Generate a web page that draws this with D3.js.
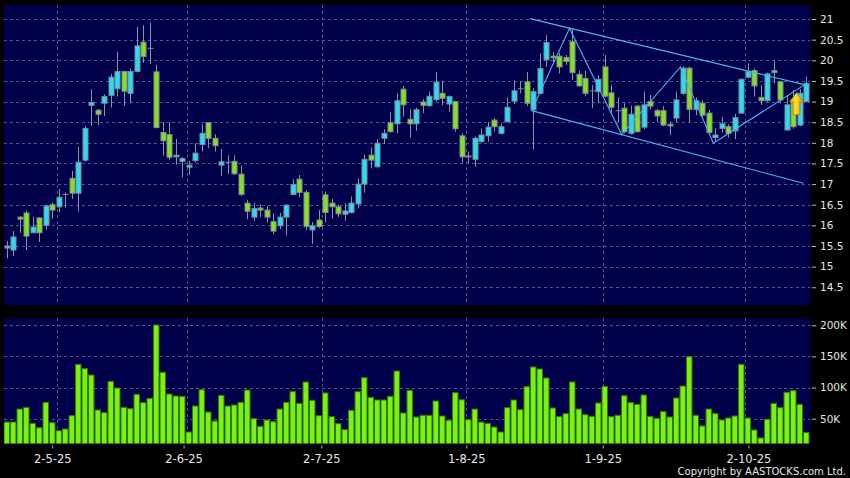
<!DOCTYPE html>
<html><head><meta charset="utf-8">
<script src="https://cdn.jsdelivr.net/npm/d3@7"></script>
<style>html,body{margin:0;padding:0;background:#000;}svg{display:block;}</style>
</head><body><svg id="c" width="850" height="478"></svg>
<script>
const openP=[15.45,15.4,16.2,16.3,15.82,16.18,16.0,16.5,16.45,16.75,17.14,16.78,17.58,18.91,18.79,18.96,19.15,19.31,19.73,19.2,19.73,20.44,20.29,19.72,18.25,18.2,17.66,17.55,17.41,17.57,17.96,18.49,18.11,17.46,17.53,17.55,17.24,16.54,16.2,16.42,16.37,16.09,15.99,16.2,16.75,17.12,16.8,15.89,16.13,16.74,16.54,16.45,16.27,16.31,16.52,17.0,17.7,17.42,18.11,18.49,18.46,19.3,18.57,18.46,18.99,18.9,19.05,19.2,18.94,19.0,18.17,17.66,17.6,18.03,18.17,18.55,18.23,18.51,19.01,19.31,19.48,18.8,19.2,20.01,20.1,20.1,20.07,20.45,19.66,19.56,19.26,19.24,19.84,19.21,18.78,18.84,18.23,18.89,18.38,19.0,18.78,18.78,18.45,18.6,19.2,19.81,18.81,18.96,18.72,18.13,18.35,18.39,18.29,18.72,19.59,19.75,19.1,19.02,19.7,19.48,18.31,19.04,18.43,19.0];
const highP=[15.62,15.86,16.22,16.36,16.2,16.2,16.5,16.55,16.88,16.8,17.32,17.9,18.41,19.3,18.82,19.18,19.67,20.21,19.75,19.8,20.81,20.85,20.91,19.89,18.5,18.5,18.1,17.66,17.56,17.99,18.46,18.5,18.21,17.85,17.7,17.7,17.45,16.62,16.54,16.51,16.47,16.29,16.3,16.51,17.12,17.22,16.85,16.08,16.37,16.82,16.64,16.5,16.54,16.7,17.14,17.71,17.89,18.09,18.33,18.75,19.2,19.38,18.82,18.85,19.06,19.24,19.71,19.5,19.15,19.02,18.23,17.79,18.15,18.35,18.51,18.6,18.47,19.1,19.51,19.5,19.72,19.32,20.17,20.61,20.2,20.18,20.13,20.77,19.75,19.75,19.4,19.64,20.13,19.4,19.1,18.96,18.9,18.92,19.24,19.16,18.82,18.89,18.51,19.24,19.85,19.85,19.1,19.04,18.8,18.35,18.63,18.45,18.7,19.56,19.93,19.8,19.4,19.7,19.99,19.5,19.16,19.28,19.3,19.6];
const lowP=[15.2,15.26,15.82,15.4,15.82,15.6,15.9,16.16,16.31,16.43,16.64,16.33,17.55,18.41,18.43,18.65,18.86,19.12,18.9,18.96,19.72,19.94,19.91,18.35,17.69,17.58,17.47,17.17,17.22,17.52,17.79,17.87,17.79,17.2,17.25,17.22,16.71,16.15,16.11,16.2,16.07,15.78,15.91,15.75,16.73,16.68,15.89,15.55,15.93,16.07,16.16,16.2,16.11,16.29,16.41,16.79,17.38,17.4,17.97,18.25,18.23,18.63,18.13,18.29,18.72,18.88,19.0,18.91,18.75,18.27,17.52,17.5,17.42,18.0,18.03,18.27,18.2,18.5,18.94,19.2,18.89,17.84,19.18,19.84,19.9,19.68,19.89,19.52,19.36,19.13,18.84,18.96,19.1,18.73,18.5,18.23,18.2,18.25,18.33,18.81,18.51,18.4,18.19,18.51,19.16,18.51,18.67,18.62,18.22,18.03,18.25,18.13,18.09,18.7,19.56,19.12,18.92,19.0,19.44,18.96,18.3,18.34,18.4,18.98];
const closeP=[15.5,15.72,16.15,15.74,15.96,15.82,16.47,16.37,16.68,16.75,16.78,17.53,18.35,18.98,18.69,19.12,19.59,19.73,19.25,19.73,20.35,20.09,20.29,18.37,18.05,17.65,17.7,17.62,17.46,17.75,18.23,18.11,17.93,17.54,17.53,17.25,16.75,16.34,16.41,16.37,16.2,15.86,16.2,16.49,16.99,16.8,15.97,15.99,15.97,16.31,16.45,16.28,16.35,16.54,17.0,17.6,17.58,17.99,18.23,18.27,19.02,18.92,18.46,18.8,18.91,19.13,19.47,19.08,19.12,18.34,17.66,17.68,18.11,18.19,18.38,18.39,18.39,18.86,19.26,19.31,18.96,19.24,19.8,20.43,20.06,19.84,19.97,19.7,19.38,19.2,19.26,19.54,19.13,18.86,18.78,18.27,18.69,18.27,18.92,18.89,18.65,18.43,18.41,19.04,19.81,18.81,19.02,18.67,18.25,18.19,18.46,18.23,18.61,19.54,19.72,19.38,19.02,19.67,19.75,19.04,18.92,18.39,19.2,19.44];
const volumeK=[44.6,44.6,65.5,68.2,42.5,35.5,76.2,43.5,30.7,33.4,54.8,137.3,130.3,120.1,63.9,59.6,110,99.2,68.2,66.1,89.1,75.7,82.7,200.4,124.5,89.6,86.4,85.9,28.6,70.3,96.5,60.6,46.2,87.5,70.3,71.9,76.2,96,50,37.7,47.9,45.2,65.5,76.2,93.4,74.6,108.9,79.5,54.8,91.3,53.3,42,32.3,63.4,93.4,115.8,84.3,80,80,85.9,126.5,59.1,95.5,52.7,55.4,55.4,78.4,54.3,47.4,91.8,80.4,48.4,65.5,44.6,42.5,36.6,28.6,67.7,80,64.5,101.4,133,129.8,115.3,67.1,53.3,58.1,108.9,65.5,56.4,53.8,75.2,101.9,53.3,55.4,87,75.7,73,88,53.8,50.6,61.3,52.7,83.2,102.4,149.5,55.4,38.3,65.5,58.1,47.9,51.1,54.3,137.3,51.1,31.8,19,49,74.6,67.7,92.4,95,73,28];

const dateLabels=["2-5-25","2-6-25","2-7-25","1-8-25","1-9-25","2-10-25"];
const dateTickIndex=[7,27.2,48.4,70.7,91.7,114.1];
const dateGridIndex=[7.7,27.7,48.5,70.6,91.7,113.6];
const priceTicks=[14.5,15,15.5,16,16.5,17,17.5,18,18.5,19,19.5,20,20.5,21];
const volumeTicks=[50,100,150,200];

// trend annotations (bar index, price)
const upperChannel=[[80.5,21.01],[123.5,19.38]];
const lowerChannel=[[80.76,18.78],[122.55,17.02]];
const zigzag=[[80.76,18.78],[86.58,20.775],[94.6,18.2],[103.65,19.84],[108.7,17.99],[123.07,19.44]];
const signalArrow={index:121.5,top:19.22,bottom:18.68};

const svg=d3.select("#c");
const n=openP.length;
const P={l:4,r:810.5,t:5,b:305};
const V={t:318,b:443.5};
const x=d3.scaleLinear().domain([-0.5,n-0.5]).range([3.5,809.5]);
const yP=d3.scaleLinear().domain([14.07,21.34]).range([305,5]);
const yV=d3.scaleLinear().domain([0,212]).range([449.8,317.8]);

const navy="#00004a", grid="#55558c", txt="#e6e6e6";
const upFill="#2adcef", dnFill="#86e01e", edge="#7d8c9a", wick="#8b96a2";

svg.append("rect").attr("width",850).attr("height",478).attr("fill","#000");
const defs=svg.append("defs");
defs.append("clipPath").attr("id","cp").append("rect").attr("x",P.l).attr("y",P.t).attr("width",P.r-P.l).attr("height",P.b-P.t);
defs.append("clipPath").attr("id","cv").append("rect").attr("x",P.l).attr("y",V.t).attr("width",P.r-P.l).attr("height",V.b-V.t);
const grad=defs.append("linearGradient").attr("id","ag").attr("x1",0).attr("x2",1).attr("y1",0).attr("y2",0);
grad.append("stop").attr("offset","0%").attr("stop-color","#e89a00");
grad.append("stop").attr("offset","45%").attr("stop-color","#ffe23a");
grad.append("stop").attr("offset","100%").attr("stop-color","#d88a00");

svg.append("rect").attr("x",P.l).attr("y",P.t).attr("width",P.r-P.l).attr("height",P.b-P.t).attr("fill",navy);
svg.append("rect").attr("x",P.l).attr("y",V.t).attr("width",P.r-P.l).attr("height",V.b-V.t).attr("fill",navy);

const snap=v=>Math.round(v)+0.5;
// grids
const gP=svg.append("g").attr("clip-path","url(#cp)");
gP.selectAll("line.h").data(priceTicks).join("line").attr("x1",P.l).attr("x2",P.r)
 .attr("y1",d=>snap(yP(d))).attr("y2",d=>snap(yP(d))).attr("stroke",grid).attr("stroke-dasharray","3,3");
gP.selectAll("line.v").data(dateGridIndex).join("line").attr("class","v").attr("y1",P.t).attr("y2",P.b)
 .attr("x1",d=>snap(x(d))).attr("x2",d=>snap(x(d))).attr("stroke",grid).attr("stroke-dasharray","3,3");
const gV=svg.append("g").attr("clip-path","url(#cv)");
gV.selectAll("line.h").data(volumeTicks).join("line").attr("x1",P.l).attr("x2",P.r)
 .attr("y1",d=>snap(yV(d))).attr("y2",d=>snap(yV(d))).attr("stroke",grid).attr("stroke-dasharray","3,3");
gV.selectAll("line.v").data(dateGridIndex).join("line").attr("class","v").attr("y1",V.t).attr("y2",V.b)
 .attr("x1",d=>snap(x(d))).attr("x2",d=>snap(x(d))).attr("stroke",grid).attr("stroke-dasharray","3,3");

// candles
const idx=d3.range(n);
const cg=gP.append("g");
cg.selectAll("line.w").data(idx).join("line").attr("class","w")
 .attr("x1",i=>snap(x(i))).attr("x2",i=>snap(x(i)))
 .attr("y1",i=>yP(highP[i])).attr("y2",i=>yP(lowP[i])).attr("stroke",wick).attr("stroke-width",1);
cg.selectAll("rect.b").data(idx).join("rect").attr("class","b")
 .attr("x",i=>snap(x(i))-2.5).attr("width",5)
 .attr("y",i=>yP(Math.max(openP[i],closeP[i])))
 .attr("height",i=>Math.max(0.01,yP(Math.min(openP[i],closeP[i]))-yP(Math.max(openP[i],closeP[i]))))
 .attr("fill",i=>closeP[i]>=openP[i]?upFill:dnFill).attr("stroke",edge).attr("stroke-width",1);

// volume
gV.selectAll("rect.v").data(idx).join("rect").attr("class","v")
 .attr("x",i=>x(i)-2.75).attr("width",5.5)
 .attr("y",i=>yV(volumeK[i])).attr("height",i=>yV(0)-yV(volumeK[i]))
 .attr("fill","#7cf012").attr("stroke","#2f7a06").attr("stroke-width",1);

// trend lines
const ln=d3.line().x(d=>x(d[0])).y(d=>yP(d[1]));
const tl=gP.append("g").attr("fill","none").attr("stroke","#4cb6f0").attr("stroke-width",1.1);
[upperChannel,lowerChannel,zigzag].forEach(a=>tl.append("path").attr("d",ln(a)));

// arrow
const ax=x(signalArrow.index), at=yP(signalArrow.top), ab=yP(signalArrow.bottom);
const hh=9.5, hw=7, sw=3.4;
svg.append("path").attr("d",`M${ax},${at}L${ax+hw},${at+hh}L${ax+sw},${at+hh}L${ax+sw},${ab}L${ax-sw},${ab}L${ax-sw},${at+hh}L${ax-hw},${at+hh}Z`)
 .attr("fill","url(#ag)").attr("stroke","#b87800").attr("stroke-width",0.8);

// axes
const font="DejaVu Sans, Verdana, sans-serif";
const ayP=svg.append("g").attr("transform","translate(812,0)")
 .call(d3.axisRight(yP).tickValues(priceTicks).tickSize(4).tickPadding(4).tickFormat(d3.format("")));
const ayV=svg.append("g").attr("transform","translate(812,0)")
 .call(d3.axisRight(yV).tickValues(volumeTicks).tickSize(4).tickPadding(4).tickFormat(d=>d+"K"));
const axX=svg.append("g").attr("transform",`translate(0,${V.b+2})`)
 .call(d3.axisBottom(x).tickValues(dateTickIndex).tickSize(3).tickPadding(6).tickFormat((d,i)=>dateLabels[i]));
[ayP,ayV,axX].forEach(g=>{
  g.select(".domain").remove();
  g.selectAll(".tick line").attr("stroke","#bbbbbb");
  g.selectAll("text").attr("fill",txt).attr("font-family",font);
});
ayP.selectAll("text").attr("font-size","10.5px");
ayV.selectAll("text").attr("font-size","10.5px");
axX.selectAll("text").attr("font-size","11.5px");

svg.append("text").attr("x",846).attr("y",475).attr("text-anchor","end")
 .attr("fill",txt).attr("font-family",font).attr("font-size","10px").text("Copyright by AASTOCKS.com Ltd.");
</script></body></html>
